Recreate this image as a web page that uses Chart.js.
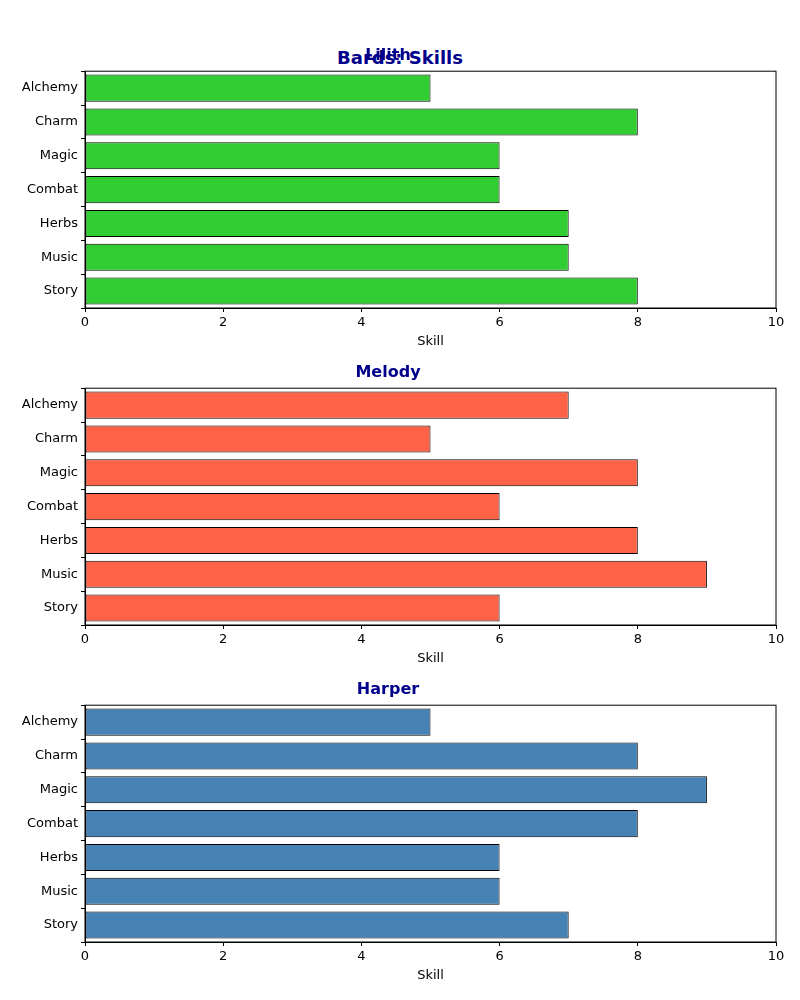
<!DOCTYPE html>
<html>
<head>
<meta charset="utf-8">
<script src="https://cdn.jsdelivr.net/npm/chart.js@4"></script>
<style>
  body { margin: 0; width: 800px; height: 1000px; background: #fff; position: relative; font-family: "DejaVu Sans", sans-serif; }
  .box { position: absolute; left: 0; width: 800px; height: 311px; }
  #sup { position: absolute; top: 47px; left: 0; width: 800px; text-align: center; font-size: 18px; font-weight: bold; color: #00008B; }
</style>
</head>
<body>
<div id="sup">Bards: Skills</div>
<div class="box" style="top:42px"><canvas id="c0"></canvas></div>
<div class="box" style="top:359px"><canvas id="c1"></canvas></div>
<div class="box" style="top:676px"><canvas id="c2"></canvas></div>
<script>
const skills = ["Alchemy", "Charm", "Magic", "Combat", "Herbs", "Music", "Story"];
const bards = ["Lilith", "Melody", "Harper"];
const lilith = [5, 8, 6, 6, 7, 7, 8];
const melody = [7, 5, 8, 6, 8, 9, 6];
const harper = [5, 8, 9, 8, 6, 6, 7];
const colors = ["#32CD32", "#FF6347", "#4682B4"];
const series = [lilith, melody, harper];

Chart.defaults.font.family = "DejaVu Sans";
Chart.defaults.color = "#000";

const frame = {
  id: "frame",
  afterDraw(chart) {
    const a = chart.chartArea, ctx = chart.ctx;
    ctx.save();
    ctx.strokeStyle = "#000";
    ctx.lineWidth = 1;
    ctx.strokeRect(a.left, a.top, a.right - a.left, a.bottom - a.top);
    ctx.restore();
  }
};

series.forEach((vals, i) => {
  new Chart(document.getElementById("c" + i), {
    type: "bar",
    data: {
      labels: skills,
      datasets: [{
        data: vals,
        backgroundColor: colors[i],
        borderColor: "#000",
        borderWidth: 1,
        borderSkipped: false,
        barPercentage: 0.8,
        categoryPercentage: 1
      }]
    },
    options: {
      indexAxis: "y",
      responsive: true,
      maintainAspectRatio: false,
      animation: false,
      layout: { padding: { top: 4, right: 24, left: 0, bottom: 0 } },
      plugins: {
        legend: { display: false },
        tooltip: { enabled: false },
        title: {
          display: true,
          text: bards[i],
          color: "#00008B",
          font: { size: 16, weight: "bold" },
          padding: { top: 0, bottom: 6 }
        }
      },
      scales: {
        x: {
          min: 0, max: 10,
          ticks: { stepSize: 2, font: { size: 13 }, padding: 3 },
          grid: { drawOnChartArea: false, tickLength: 4, color: "#000" },
          border: { color: "#000" },
          title: { display: true, text: "Skill", font: { size: 13 }, padding: { top: 2 } },
          afterFit: s => { s.height = 45; }
        },
        y: {
          ticks: { font: { size: 13 }, padding: 3 },
          grid: { drawOnChartArea: false, tickLength: 4, color: "#000" },
          border: { color: "#000" },
          afterFit: s => { s.width = 85; }
        }
      }
    },
    plugins: [frame]
  });
});
</script>
</body>
</html>
